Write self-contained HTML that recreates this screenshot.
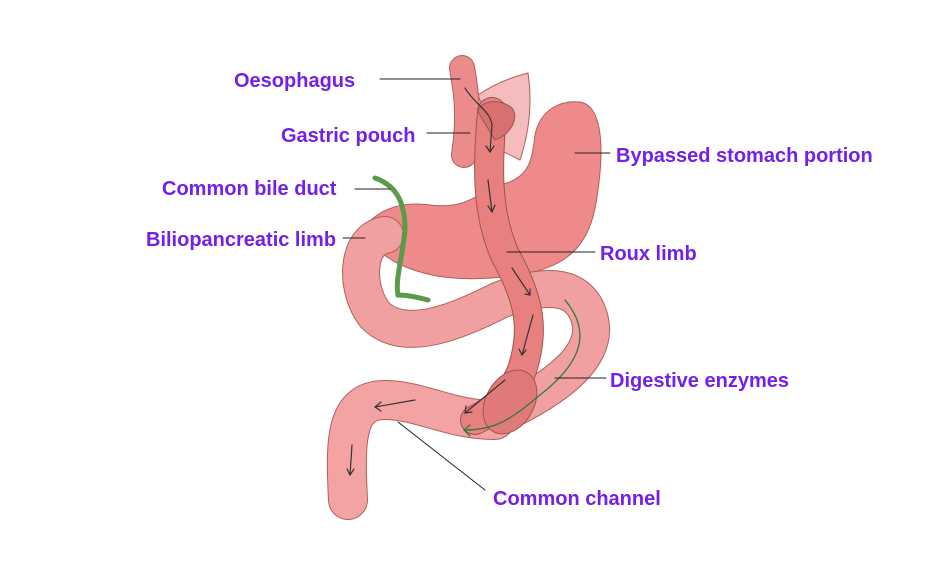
<!DOCTYPE html>
<html><head><style>
body{margin:0;background:#fff;width:940px;height:587px;overflow:hidden;position:relative;font-family:"Liberation Sans",sans-serif}
.l{position:absolute;color:#7420e6;font-weight:bold;font-size:20px;white-space:nowrap}
</style></head><body>
<svg width="940" height="587" style="position:absolute;left:0;top:0">
<g stroke-linecap="round" fill="none">
<!-- bypassed stomach -->
<path d="M535,135 C540,110 560,100 580,102 C600,105 605,140 598,190 C592,240 575,265 520,275 C470,282 430,280 395,262 L360,240 C365,215 395,200 430,205 C470,210 480,190 500,185 C530,178 532,160 535,135Z" fill="#ee8a8a" stroke="#b0605a" stroke-width="1"/>
<!-- stomach remnant top -->
<path d="M478,95 C500,80 520,75 528,73 C532,100 530,130 520,160 L500,150Z" fill="#f4bcbc" stroke="#b0605a" stroke-width="1"/>
<!-- oesophagus -->
<path d="M462,68 C466,90 470,115 464,155" stroke="#b0605a" stroke-width="26"/>
<path d="M462,68 C466,90 470,115 464,155" stroke="#ec8b8b" stroke-width="24"/>
<!-- biliopancreatic limb -->
<path d="M385,235 C355,240 355,290 375,315 C405,345 460,320 500,300 C540,285 580,280 590,320 C598,355 560,385 510,410" stroke="#b0605a" stroke-width="38"/>
<path d="M385,235 C355,240 355,290 375,315 C405,345 460,320 500,300 C540,285 580,280 590,320 C598,355 560,385 510,410" stroke="#f0a0a0" stroke-width="36"/>
<!-- common channel -->
<path d="M495,420 C450,420 420,400 385,400 C345,400 345,440 348,500" stroke="#b0605a" stroke-width="40"/>
<path d="M495,420 C450,420 420,400 385,400 C345,400 345,440 348,500" stroke="#f3a3a3" stroke-width="38"/>
<!-- roux limb -->
<path d="M492,112 C488,160 485,210 505,255 C530,300 535,330 522,370 C512,395 495,410 475,420" stroke="#9a5650" stroke-width="30"/>
<path d="M492,112 C488,160 485,210 505,255 C530,300 535,330 522,370 C512,395 495,410 475,420" stroke="#e98080" stroke-width="28"/>
<!-- pouch -->
<path d="M478,112 C480,100 500,98 512,108 C520,118 510,135 495,140Z" fill="#d87070" stroke="#9a5650" stroke-width="1"/>
<!-- anastomosis -->
<ellipse cx="510" cy="402" rx="24" ry="34" transform="rotate(30 510 402)" fill="#e07a7a" stroke="#9a5650" stroke-width="1"/>
<!-- bile duct -->
<path d="M375,178 C395,185 405,200 405,230 C402,260 395,280 398,295 C410,295 420,298 428,300" stroke="#5a9a48" stroke-width="5"/>
<!-- arrows -->
<g stroke="#333" stroke-width="1.2">
<path d="M465,88 C475,105 490,110 492,125 L490,152"/><path d="M486,146 L490,152 L494,146"/>
<path d="M488,180 L492,212"/><path d="M488,206 L492,212 L495,205"/>
<path d="M512,268 L530,295"/><path d="M525,294 L530,295 L530,289"/>
<path d="M533,315 L522,355"/><path d="M519,349 L522,355 L526,350"/>
<path d="M505,380 L465,413"/><path d="M466,406 L465,413 L472,412"/>
<path d="M415,400 L375,407"/><path d="M381,402 L375,407 L381,411"/>
<path d="M352,445 L350,475"/><path d="M347,469 L350,475 L354,469"/>
</g>
<path d="M565,300 C590,330 585,360 540,395 C510,420 495,430 465,430" stroke="#2d7a3a" stroke-width="1.3"/>
<path d="M470,425 L464,430 L470,436" stroke="#2d7a3a" stroke-width="1.3"/>
<!-- leader lines -->
<g stroke="#222" stroke-width="1">
<path d="M380,79 L460,79"/><path d="M427,133 L470,133"/><path d="M575,153 L610,153"/>
<path d="M355,189 L390,189"/><path d="M343,238 L365,238"/><path d="M507,252 L595,252"/>
<path d="M555,378 L606,378"/><path d="M398,422 L485,490"/>
</g>
</g>
</svg>
<div class="l" style="left:234px;top:70px">Oesophagus</div>
<div class="l" style="left:281px;top:125px">Gastric pouch</div>
<div class="l" style="left:616px;top:145px">Bypassed stomach portion</div>
<div class="l" style="left:162px;top:178px">Common bile duct</div>
<div class="l" style="left:146px;top:229px">Biliopancreatic limb</div>
<div class="l" style="left:600px;top:243px">Roux limb</div>
<div class="l" style="left:610px;top:370px">Digestive enzymes</div>
<div class="l" style="left:493px;top:488px">Common channel</div>
</body></html>
